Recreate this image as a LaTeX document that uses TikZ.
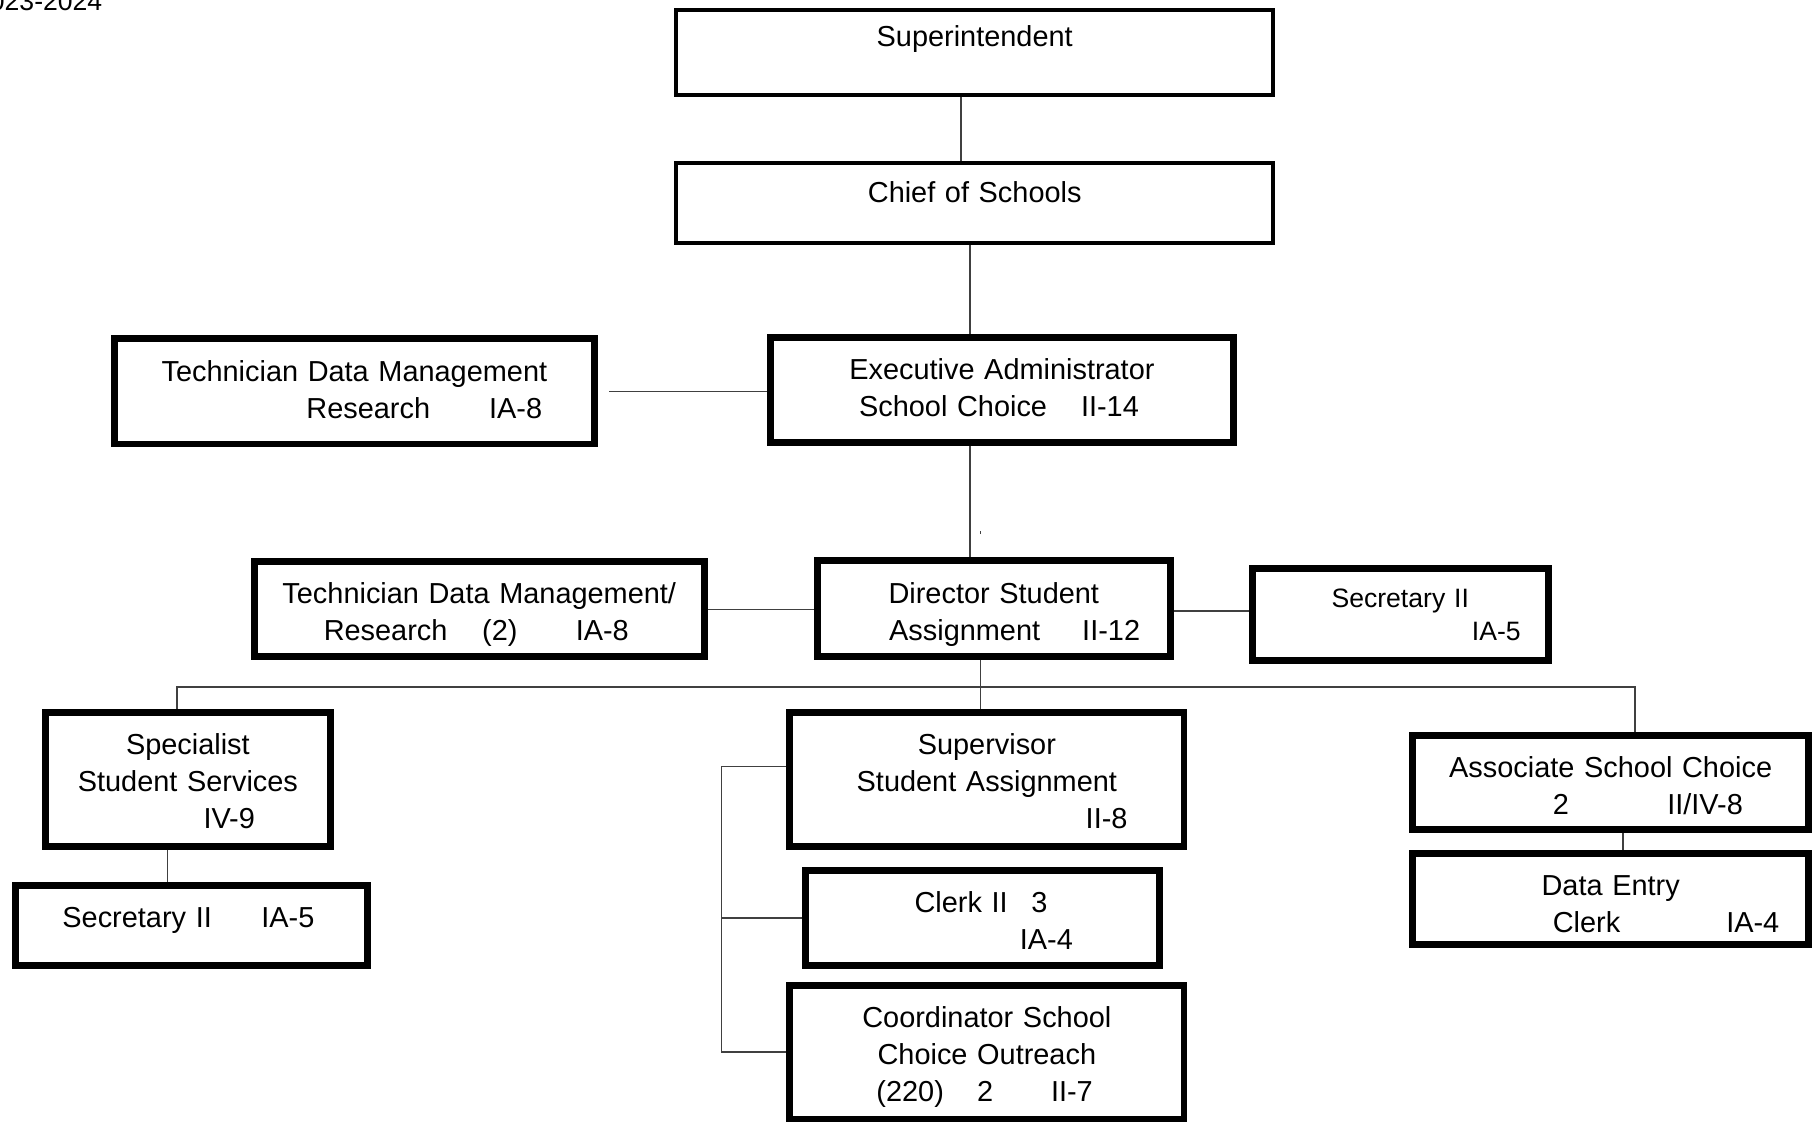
\documentclass[tikz,border=0pt]{standalone}
\usepackage{fontspec}
\setmainfont{Liberation Sans}
\newcommand{\wat}[2]{\leavevmode\rlap{\hspace*{#1pt}#2}\strut}
\newcommand{\midtext}[1]{\leavevmode\makebox[\hsize]{\strut #1}}
\tikzset{
	box/.style={draw, line width=6pt, inner xsep=0pt, inner ysep=0pt, align=left, font=\fontsize{25}{32}\selectfont},
	topbox/.style={box, line width=3.5pt},
	boxdim/.style 2 args={minimum width=#1pt, text width=#1pt, minimum height=#2pt},
	link/.style={draw=black!75, line width=1.3pt}
}
\begin{document}
\begin{tikzpicture}[x=1pt, y=-1pt]
		\useasboundingbox (0,0) rectangle (1568,970);
		\node[anchor=base east, font=\fontsize{23}{28}\selectfont] (year) at (92,9.5) {2023-2024};
		\node[topbox, boxdim={516.5}{73.5}, text depth=33.6pt] (sup) at (843,45.5) {\midtext{Superintendent}};
		\node[topbox, boxdim={516.5}{69.5}, text depth=22.4pt] (chief) at (843,175.5) {\midtext{Chief of Schools}};
		\node[box, boxdim={415}{91}, text height=24pt] (techA) at (306.5,338.5) {\midtext{Technician Data Management}\\ \wat{166}{Research}\wat{324}{IA-8}};
		\node[box, boxdim={401}{91}] (exec) at (866.5,337.5) {\midtext{Executive Administrator}\\ \wat{77}{School Choice}\wat{269}{II-14}};
		\node[box, boxdim={389}{82}, text height=32pt] (tech2) at (414.5,527) {\midtext{Technician Data Management/}\\ \wat{60}{Research}\wat{197}{(2)}\wat{278}{IA-8}};
		\node[box, boxdim={305}{83}, text height=32pt] (dir) at (859.5,526.5) {\midtext{Director Student}\\ \wat{62}{Assignment}\wat{229}{II-12}};
		\node[box, boxdim={256}{79}, font=\fontsize{23}{29}\selectfont, text height=25.3pt] (secR) at (1211,531.5) {\midtext{Secretary II}\\ \wat{190}{IA-5}};
		\node[box, boxdim={247}{116}, text height=30.4pt] (spec) at (162.5,674) {\midtext{Specialist}\\ \midtext{Student Services}\\ \wat{137}{IV-9}};
		\node[box, boxdim={305}{69}, text depth=19.6pt] (secL) at (165.5,800.5) {\wat{41}{Secretary II}\wat{213}{IA-5}};
		\node[box, boxdim={341}{116}, text height=30.4pt] (sup2) at (853.5,674) {\midtext{Supervisor}\\ \midtext{Student Assignment}\\ \wat{256}{II-8}};
		\node[box, boxdim={306}{82}, text height=31.4pt] (clerk) at (850,794) {\wat{94}{Clerk II}\wat{195}{3}\\ \wat{185}{IA-4}};
		\node[box, boxdim={341}{116}, text height=30.4pt] (coord) at (853.5,910) {\midtext{Coordinator School}\\ \midtext{Choice Outreach}\\ \wat{75}{(220)}\wat{162}{2}\wat{226}{II-7}};
		\node[box, boxdim={342}{81}, text height=34pt] (assoc) at (1393,676.5) {\midtext{Associate School Choice}\\ \wat{121}{2}\wat{220}{II/IV-8}};
		\node[box, boxdim={342}{79}, text height=36pt] (data) at (1393,777.5) {\midtext{Data Entry}\\ \wat{121}{Clerk}\wat{271}{IA-4}};
		\draw[link] ([xshift=-12]sup.south) -- ([xshift=-12]chief.north);
		\draw[link] ([xshift=-4]chief.south) -- ([xshift=-4]chief.south |- exec.north);
		\draw[link] ([xshift=10]techA.east) -- (techA.east -| exec.west);
		\draw[link] ([xshift=-27.5]exec.south) -- ([xshift=-27.5]exec.south |- dir.north);
		\draw[link] ([xshift=-11.5,yshift=20]dir.north) -- ++(0,-3);
		\draw[link] (tech2.east) -- (tech2.east -| dir.west);
		\draw[link] ([yshift=-2]dir.east) -- ([yshift=-2]dir.east -| secR.west);
		\draw[link] ([xshift=-11.5]dir.south) -- ++(0,23) coordinate (bus);
		\draw[link] ([xshift=-9.5]spec.north) |- (bus) -| ([xshift=21]assoc.north);
		\draw[link] (bus) -- ([xshift=-5.5]sup2.north);
		\draw[link] ([xshift=-17.5]spec.south) -- ([xshift=-17.5]spec.south |- secL.north);
		\coordinate (rail) at ([xshift=-56]coord.west);
		\draw[link] ([yshift=11]sup2.west) -| (rail) -- (coord.west);
		\draw[link] (clerk.west) -- (clerk.west -| rail);
		\draw[link] ([xshift=10.5]assoc.south) -- ([xshift=10.5]assoc.south |- data.north);
	\end{tikzpicture}
\end{document}
